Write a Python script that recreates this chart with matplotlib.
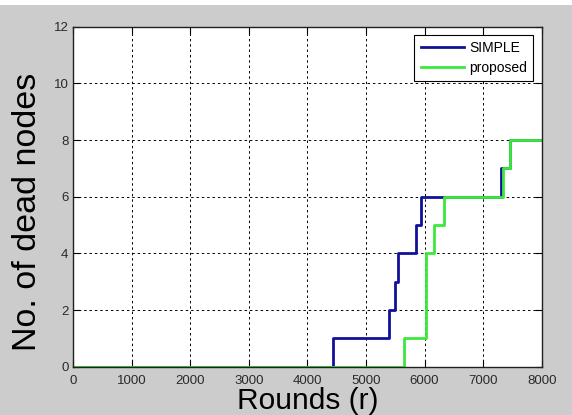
import matplotlib.pyplot as plt
from matplotlib.patches import Rectangle

# step points (round at which the count changes, dead node count)
simple_rounds = [0, 4430, 5400, 5500, 5540, 5860, 5945, 7300, 7460, 8000]
simple_dead = [0, 1, 2, 3, 4, 5, 6, 7, 8, 8]

proposed_rounds = [0, 5655, 6025, 6028, 6030, 6155, 6335, 7345, 7457, 8000]
proposed_dead = [0, 1, 2, 3, 4, 5, 6, 7, 8, 8]

x_ticks = list(range(0, 8001, 1000))
y_ticks = list(range(0, 13, 2))

plt.rcParams['font.family'] = ['Liberation Sans', 'DejaVu Sans']

fig = plt.figure(figsize=(5.72, 4.15), dpi=100, facecolor='#cccccc')
# white strip of the page above the figure
fig.patches.append(Rectangle((0, 1 - 5 / 415), 1, 5 / 415, transform=fig.transFigure,
                             facecolor='white', edgecolor='none', zorder=0))

ax = fig.add_axes([73.3 / 572, 48.3 / 415, 468.4 / 572, 340 / 415])
ax.set_facecolor('white')

ax.step(simple_rounds, simple_dead, where='post', color='#10109a', lw=2, label='SIMPLE')
ax.step(proposed_rounds, proposed_dead, where='post', color='#3ce83c', lw=2, label='proposed')

ax.set_xlim(0, 8000)
ax.set_ylim(0, 12)
ax.set_xticks(x_ticks)
ax.set_yticks(y_ticks)
ax.grid(True, color='black', linestyle=(0, (2.5, 3)), linewidth=0.7)
ax.set_axisbelow(True)

ax.tick_params(direction='in', length=5, top=True, right=True, labelsize=9.5,
               labelcolor='#2a2a2a', width=0.8)
ax.tick_params(axis='x', pad=6)
for s in ax.spines.values():
    s.set_linewidth(1)
    s.set_color('#202020')

ax.set_xlabel('Rounds (r)', fontsize=21.5, labelpad=0)
ax.set_ylabel('No. of dead nodes', fontsize=24.5)
ax.yaxis.set_label_coords(-0.064, 0.455)

leg = ax.legend(loc='upper right', fontsize=10, fancybox=False, framealpha=1,
                edgecolor='black', borderaxespad=0.6, handlelength=3.1,
                handletextpad=0.4, labelspacing=0.4, borderpad=0.45)
leg.get_frame().set_linewidth(0.8)

fig.savefig('out.png', dpi=100, facecolor=fig.get_facecolor())
